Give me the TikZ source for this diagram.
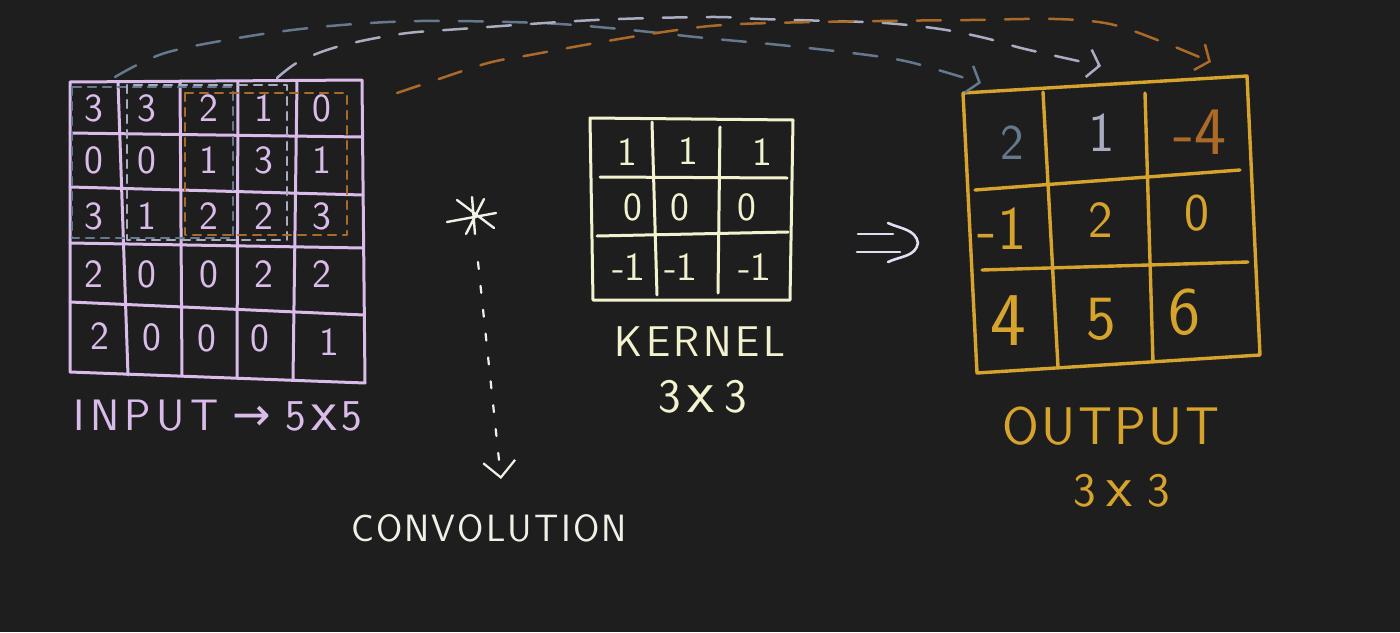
\documentclass[tikz,border=0pt]{standalone}
\usepackage{fontspec}
\newfontfamily\djv{DejaVu Sans}
\usetikzlibrary{arrows.meta}
\definecolor{bg}{RGB}{30,30,30}
\definecolor{lav}{RGB}{218,188,234}
\definecolor{cream}{RGB}{242,242,206}
\definecolor{gold}{RGB}{214,164,44}
\definecolor{slate}{RGB}{102,120,142}
\definecolor{lgray}{RGB}{170,172,194}
\definecolor{orng}{RGB}{172,106,40}
\definecolor{chalk}{RGB}{240,240,230}
\definecolor{chalkb}{RGB}{226,222,242}
\newcommand\footone{\makebox[0pt][l]{\hspace{0.1em}\rule{0.32em}{0.07em}}1}
\begin{document}
\begin{tikzpicture}[x=1pt,y=-1pt,line cap=round,line join=round,
  ink/.style={line width=3pt},
  win/.style={line width=2.2pt,dash pattern=on 8pt off 7pt},
  flow/.style={line width=2.5pt,dash pattern=on 24pt off 20pt,-{Straight Barb[length=11pt,width=28pt]}},
  digit/.style={inner sep=0pt,font=\sffamily\fontsize{40}{40}\selectfont},
  odigit/.style={inner sep=0pt,font=\sffamily\fontsize{#1}{#1}\selectfont},
  lbl/.style={inner sep=0pt,font=\sffamily\fontsize{#1}{#1}\selectfont},
]
\fill[bg] (0,0) rectangle (1400,632);
\useasboundingbox (0,0) rectangle (1400,632);

% ---------- input grid ----------
\draw[ink,lav] (70,82) -- (362,80) -- (365,383) -- (70,372) -- cycle;
\draw[ink,lav] (118,82) -- (128,375) (180,81) -- (182,376) (238,81) -- (237,378) (297,81) -- (293,380);
\draw[ink,lav] (70,133) -- (362,137) (70,187) -- (363,195) (70,243) -- (363,248) (70,302) -- (364,315);
\foreach \r/\y/\a/\b/\c/\d/\e in {0/108/3/3/2/1/0, 1/160/0/0/1/3/1, 2/216/3/1/2/2/3, 3/274/2/0/0/2/2}{
  \node[digit,lav] (in\r a) at (94,\y) {\a};
  \node[digit,lav] (in\r b) at (147,\y) {\b};
  \node[digit,lav] (in\r c) at (209,\y) {\c};
  \node[digit,lav] (in\r d) at (264,\y) {\d};
  \node[digit,lav] (in\r e) at (322,\y) {\e};
}
\node[digit,lav] (in4a) at (100,336) {2};
\node[digit,lav] (in4b) at (152,337) {0};
\node[digit,lav] (in4c) at (207,338) {0};
\node[digit,lav] (in4d) at (260,338) {0};
\node[digit,lav] (in4e) at (329,342) {\footone};
% windows
\draw[win,slate] (72,87) rectangle (233,238);
\draw[win,lgray] (127,85) rectangle (287,240);
\draw[win,orng] (185,93) rectangle (347,235);
\node[lbl=44,lav,anchor=west] (inlab) at (73,416) {I\kern5.5pt N\kern5.5pt P\kern5.5pt U\kern5.5pt T\hspace{14pt}{\djv\fontsize{46}{46}\selectfont →}\hspace{14pt}5\hspace{6pt}\scalebox{1.35}{x}\hspace{4pt}5};

% ---------- convolution ----------
\draw[chalk,line width=2.4pt] (472,197) -- (475,234) (447,222) -- (496,213) (457,200) -- (494,228) (484,199) -- (466,234);
\coordinate (dotA) at (478,262);
\coordinate (dotB) at (501,479);
\draw[chalk,line width=2.2pt,dash pattern=on 7pt off 17pt,-{Straight Barb[length=16pt,width=32pt]}] (dotA) -- (dotB);
\node[lbl=38,chalk] (conv) at (489,528) {C\kern2.2pt O\kern2.2pt N\kern2.2pt V\kern2.2pt O\kern2.2pt L\kern2.2pt U\kern2.2pt T\kern2.2pt I\kern2.2pt O\kern2.2pt N};

% ---------- kernel ----------
\draw[ink,cream] (590,118) -- (793,120) -- (790,300) -- (593,300) -- cycle;
\draw[ink,cream] (652,122) -- (657,295) (720,127) -- (718,293) (600,177) -- (787,178) (597,236) -- (788,232);
\node[digit,cream] (k00) at (627,152) {\footone};
\node[digit,cream] (k01) at (688,151) {\footone};
\node[digit,cream] (k02) at (762,152) {\footone};
\node[digit,cream] (k10) at (633,207) {0};
\node[digit,cream] (k11) at (680,207) {0};
\node[digit,cream] (k12) at (747,207) {0};
\node[digit,cream] (k20) at (628,267) {-\footone};
\node[digit,cream] (k21) at (680,267) {-\footone};
\node[digit,cream] (k22) at (754,267) {-\footone};
\node[lbl=43,cream] (klab) at (700,342) {K\kern3.6pt E\kern3.6pt R\kern3.6pt N\kern3.6pt E\kern3.6pt L};
\node[lbl=48,cream] (ksize) at (703,397) {3\hspace{6pt}\scalebox{1.3}{x}\hspace{10pt}3};

% ---------- implies arrow ----------
\draw[chalkb,line width=2.6pt] (858,234) -- (893,234) (857,252) -- (900,252);
\draw[chalkb,line width=2.6pt] (888,223) to[out=-25,in=100] (918,243) to[out=-100,in=25] (888,262);

% ---------- output ----------
\draw[gold,line width=3.4pt] (963,93) -- (1247,76) -- (1260,355) -- (977,373) -- cycle;
\draw[gold,line width=3.4pt] (1043,92) -- (1058,367) (1145,93) -- (1153,362) (975,190) -- (1240,170) (982,270) -- (1248,262);
\node[odigit=50,slate] (o00) at (1012,143) {2};
\node[odigit=56,lgray] (o01) at (1102,133) {1};
\node[odigit=68,orng] (o02) at (1200,132) {-4};
\node[odigit=62,gold] (o10) at (1002,229) {-1};
\node[odigit=52,gold] (o11) at (1101,220) {2};
\node[odigit=53,gold] (o12) at (1197,213) {0};
\node[odigit=76,gold] (o20) at (1008,321) {4};
\node[odigit=63,gold] (o21) at (1101,319) {5};
\node[odigit=68,gold] (o22) at (1184,312) {6};
\node[lbl=53,gold] (olab) at (1111,426) {O\kern2.4pt U\kern2.4pt T\kern2.4pt P\kern2.4pt U\kern2.4pt T};
\node[lbl=48,gold] (osize) at (1122,491) {3\hspace{10pt}\scalebox{1.25}{x}\hspace{16pt}3};

% ---------- flows ----------
\coordinate (s1) at (115,77);
\coordinate (e1) at (981,83);
\coordinate (s2) at (277,78);
\coordinate (e2) at (1101,66);
\coordinate (s3) at (397,93);
\coordinate (e3) at (1211,62);
\draw[flow,slate] plot[smooth,tension=0.55] coordinates {(s1) (165,53) (250,36) (330,26) (420,21) (540,23) (620,29) (705,38) (780,45) (860,54) (905,61) (945,72) (e1)};
\draw[flow,lgray] plot[smooth,tension=0.55] coordinates {(s2) (300,61) (340,46) (400,34) (460,29) (595,20) (710,17) (760,19) (830,21) (885,23) (940,29) (985,38) (1025,49) (e2)};
\draw[flow,orng] plot[smooth,tension=0.55] coordinates {(s3) (430,82) (488,63) (530,55) (590,44) (650,34) (710,26) (770,23) (880,21) (970,20) (1055,19) (1110,24) (1160,41) (e3)};
\end{tikzpicture}
\end{document}
